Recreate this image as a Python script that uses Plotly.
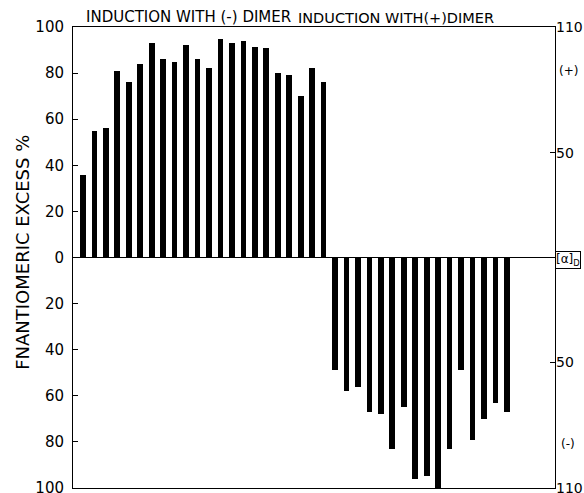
import plotly.graph_objects as go

# Enantiomeric excess (%) – induction with (-) dimer (positive) and (+) dimer (negative)
pos_values = [36, 55, 56, 81, 76, 84, 93, 86, 85, 92, 86, 82, 95, 93, 94, 91.5, 91, 80, 79, 70, 82, 76]
neg_values = [-49, -58, -56, -67, -68, -83, -65, -96, -95, -100, -83, -49, -79, -70, -63, -67]
values = pos_values + neg_values
positions = list(range(1, len(values) + 1))

left_tickvals = [100, 80, 60, 40, 20, 0, -20, -40, -60, -80, -100]
left_ticktext = ["100", "80", "60", "40", "20", "0", "20", "40", "60", "80", "100"]
right_tickvals = [110, 50, -50, -110]
right_ticktext = ["110", "50", "50", "110"]

font_family = "DejaVu Sans"

fig = go.Figure()
fig.add_trace(go.Bar(x=positions, y=values, width=0.5, marker=dict(color="black", line=dict(width=0)),
                     showlegend=False, hoverinfo="skip"))
fig.add_trace(go.Scatter(x=[positions[0]], y=[0], yaxis="y2", mode="markers",
                         marker=dict(opacity=0), showlegend=False, hoverinfo="skip"))

fig.update_layout(
    width=584, height=493,
    margin=dict(l=73, r=29, t=27, b=5, autoexpand=False),
    paper_bgcolor="white", plot_bgcolor="white",
    font=dict(family=font_family, color="black", size=14),
    bargap=0,
    xaxis=dict(range=[0.13, 42.2], showticklabels=False, ticks="", showgrid=False, zeroline=False,
               showline=True, linecolor="black", linewidth=1, mirror=True, automargin=False),
    yaxis=dict(range=[-100, 100], tickvals=left_tickvals, ticktext=left_ticktext,
               ticks="inside", ticklen=5, tickcolor="black", showgrid=False,
               zeroline=True, zerolinecolor="black", zerolinewidth=1,
               showline=True, linecolor="black", linewidth=1, mirror=True, automargin=False,
               tickfont=dict(size=15), ticklabelstandoff=5, ticklabeloverflow="allow"),
    yaxis2=dict(range=[-110, 110], overlaying="y", side="right", tickvals=right_tickvals,
                ticktext=right_ticktext, ticks="inside", ticklen=5, tickcolor="black",
                showgrid=False, zeroline=False, showline=False, automargin=False,
                tickfont=dict(size=14), ticklabeloverflow="allow"),
    annotations=[
        dict(text="FNANTIOMERIC EXCESS %", xref="paper", yref="paper", x=-0.104, y=0.512,
             xanchor="center", yanchor="middle",
             textangle=-90, showarrow=False, font=dict(size=18)),
        dict(text="INDUCTION WITH (-) DIMER", xref="x", yref="y", x=10.2, y=100,
             xanchor="center", yanchor="bottom", showarrow=False, yshift=-1, font=dict(size=15)),
        dict(text="INDUCTION WITH(+)DIMER", xref="x", yref="y", x=28.3, y=100,
             xanchor="center", yanchor="bottom", showarrow=False, yshift=-1, font=dict(size=14.5)),
        dict(text="(+)", xref="paper", yref="y2", x=1.027, y=89, xanchor="center",
             showarrow=False, font=dict(size=12)),
        dict(text="(-)", xref="paper", yref="y2", x=1.027, y=-89, xanchor="center",
             showarrow=False, font=dict(size=12)),
        dict(text="[α]<sub>D</sub>", xref="paper", yref="y2", x=1.027, y=-1, xanchor="center",
             showarrow=False, font=dict(size=12), bordercolor="black", borderwidth=1, borderpad=0),
    ],
)

fig.write_html("out.html", config={"displayModeBar": False},
               post_script="document.body.style.margin='0';document.body.style.overflow='hidden';")
